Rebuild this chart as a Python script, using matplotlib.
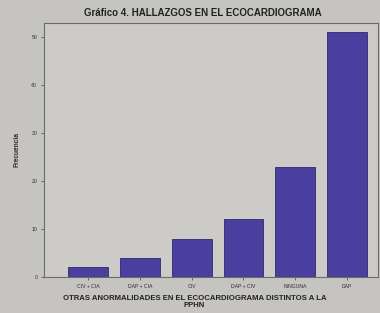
import numpy as np
import matplotlib.pyplot as plt

# Gráfico 4 - hallazgos en el ecocardiograma
categorias = ["CIV + CIA", "DAP + CIA", "CIV", "DAP + CIV", "NINGUNA", "DAP"]
frecuencia = [2, 4, 8, 12, 23, 51]
y_ticks = [0, 10, 20, 30, 40, 50]

FONDO = "#c6c4c0"
AREA = "#cdcbc8"
BARRA = "#4a3f9e"

fig = plt.figure(figsize=(3.8, 3.13), dpi=100, facecolor=FONDO)
ax = fig.add_axes([0.116, 0.115, 0.879, 0.812])
ax.set_facecolor(AREA)

x = np.arange(len(categorias))
ax.bar(x, frecuencia, width=0.77, color=BARRA, edgecolor="#2e2870", linewidth=0.6)

ax.set_xlim(-0.85, 5.6)
ax.set_ylim(0, 52.9)
ax.set_xticks(x)
ax.set_xticklabels(categorias, fontsize=3.7, family="Liberation Sans")
ax.set_yticks(y_ticks)
ax.set_yticklabels([str(v) for v in y_ticks], fontsize=3.7, family="Liberation Sans")
ax.tick_params(length=2.5, width=0.6, colors="#555555", pad=2.5)
for lbl in ax.get_xticklabels() + ax.get_yticklabels():
    lbl.set_color("#2e2e2e")

for s in ax.spines.values():
    s.set_color("#6a6a6a")
    s.set_linewidth(0.8)

ax.set_ylabel("Frecuencia", fontsize=4.8, fontweight="bold", family="Liberation Sans",
              color="#2e2e2e", labelpad=8)
ax.set_xlabel("OTRAS ANORMALIDADES EN EL ECOCARDIOGRAMA DISTINTOS A LA\nPPHN",
              fontsize=5.6, fontweight="bold", family="Liberation Sans",
              color="#222222", linespacing=1.05)
ax.xaxis.set_label_coords(0.45, -0.07)
ax.xaxis.label.set_va("top")
fig.text(0.535, 0.957, "Gráfico 4. HALLAZGOS EN EL ECOCARDIOGRAMA", ha="center", va="center",
         fontsize=7.0, fontweight="bold", family="Liberation Sans", color="#222222")

fig.savefig("out.png", dpi=100, facecolor=FONDO)
